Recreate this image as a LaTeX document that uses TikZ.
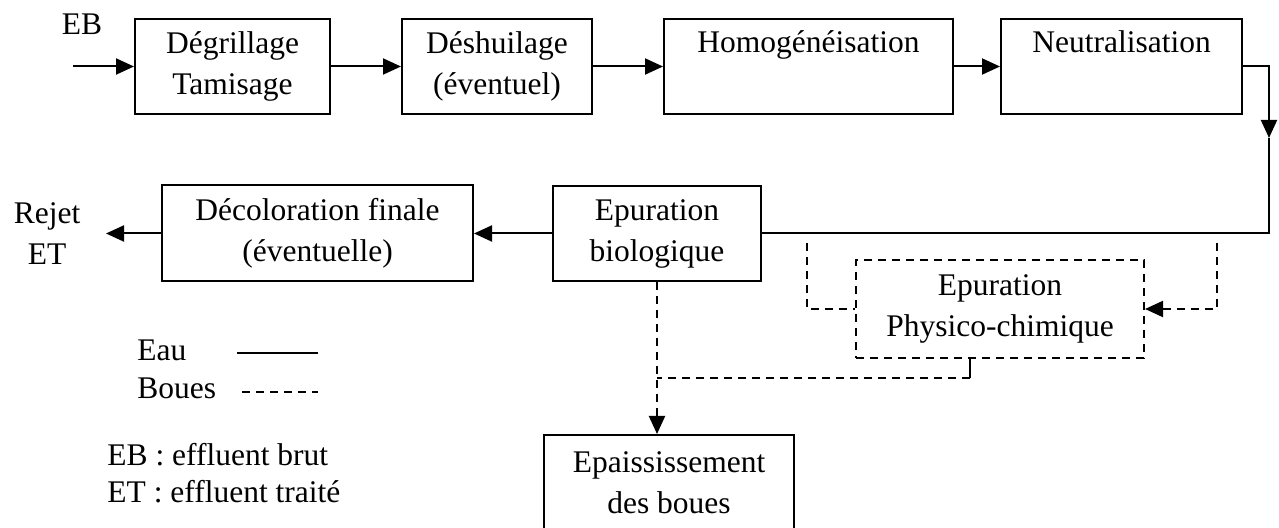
\documentclass[tikz,border=0pt]{standalone}
\usepackage{fontspec}
\setmainfont{Liberation Serif}
\usetikzlibrary{arrows.meta}
\begin{document}
\begin{tikzpicture}[x=0.5pt,y=-0.5pt,
  every node/.style={font=\fontsize{15.75}{20.5}\selectfont, inner sep=0pt},
  procbox/.style={draw, line width=1pt, align=center, minimum height=47.5pt},
  flow/.style={line width=1pt},
  sludge/.style={line width=1pt, dash pattern=on 4.2pt off 2.8pt},
  tip/.style={-{Triangle[length=9pt,width=8pt]}},
]
\useasboundingbox (0,0) rectangle (1279,528);

% top row
\node (eb) at (82,24) {EB};
\coordinate (in) at (73,66.5);
\node[procbox, minimum width=97.5pt] (b1) at (232.5,66.5) {Dégrillage\\Tamisage};
\node[procbox, minimum width=95pt] (b2) at (497,66.5) {Déshuilage\\(éventuel)};
\node[procbox, minimum width=144.5pt] (b3) at (808.5,66.5) {Homogénéisation\\[-2pt]\strut};
\node[procbox, minimum width=120.5pt] (b4) at (1121.5,66.5) {Neutralisation\\[-2pt]\strut};

\draw[flow,tip] (in) -- (b1.west);
\draw[flow,tip] (b1.east) -- (b2.west);
\draw[flow,tip] (b2.east) -- (b3.west);
\draw[flow,tip] (b3.east) -- (b4.west);

% second row
\node[procbox, minimum width=104pt] (bio) at (657,233.5) {Epuration\\biologique};
\node[procbox, minimum width=155.5pt, minimum height=48pt] (deco) at (317.5,233.5) {Décoloration finale\\(éventuelle)};
\node[align=center] (rejet) at (47,234) {Rejet\\ET};
\coordinate (out) at (106,233.5);

\coordinate (c1) at (1269,66.5);
\coordinate (c2) at (1269,138);
\coordinate (c3) at (1269,233.5);
\draw[flow,tip] (b4.east) -- (c1) -- (c2);
\draw[flow] (c2) -- (c3) -- (bio.east);
\draw[flow,tip] (bio.west) -- (deco.east);
\draw[flow,tip] (deco.west) -- (out);

% physico-chemical (sludge)
\node[procbox, sludge, minimum width=144pt, minimum height=49pt] (phys) at (1000,309) {Epuration\\Physico-chimique};
\coordinate (dl) at (807,243);
\coordinate (dr) at (1217,243);
\draw[sludge] (dl) |- (phys.west);
\draw[sludge,tip] (dr) |- (phys.east);

\node[procbox, minimum width=125pt, minimum height=48pt] (epais) at (669,483) {Epaississement\\des boues};
\coordinate (pj) at (970,378);
\draw[flow] ([xshift=-15pt]phys.south) -- (pj);
\draw[sludge] (pj) -- (pj -| bio.south);
\draw[sludge,tip] (bio.south) -- (bio.south |- epais.north);

% legend
\node[anchor=base west] (eau) at (137,361) {Eau};
\coordinate (e1) at (237,353);
\coordinate (e2) at (318,353);
\draw[flow] (e1) -- (e2);
\node[anchor=base west] (boues) at (137,399) {Boues};
\coordinate (s1) at (242,392);
\coordinate (s2) at (318,392);
\draw[sludge] (s1) -- (s2);
\node[anchor=base west] (defeb) at (107,466) {EB : effluent brut};
\node[anchor=base west] (defet) at (107,503) {ET : effluent traité};
\end{tikzpicture}
\end{document}
